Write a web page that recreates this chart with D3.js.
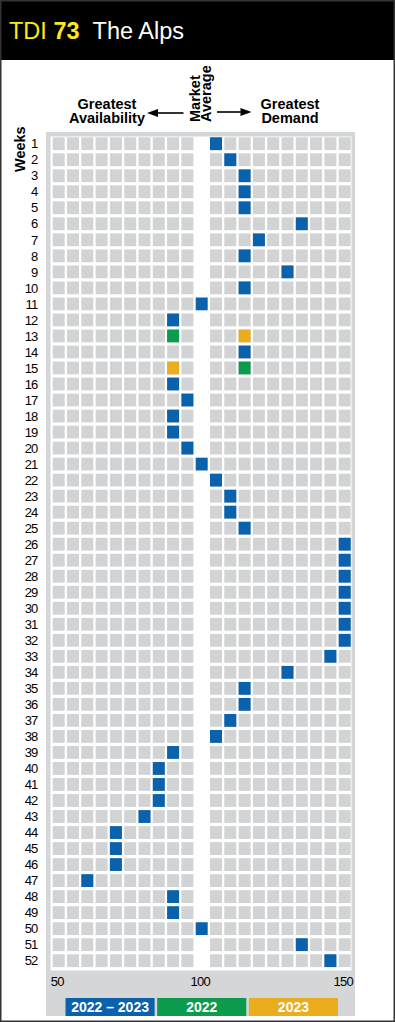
<!DOCTYPE html>
<html>
<head>
<meta charset="utf-8">
<script src="https://cdn.jsdelivr.net/npm/d3@7"></script>
<style>
  body { margin: 0; background: #fff; }
  svg { display: block; font-family: "Liberation Sans", Arial, sans-serif; }
</style>
</head>
<body>
<svg id="tdi" width="395" height="1022"></svg>
<script>
// week labels (rows) and TDI column ticks
const weeks = d3.range(1, 53);
const columns = d3.range(50, 151, 5);
const tickLabels = [50, 100, 150];

// 2022-2023 combined value per week (null where the two years differ)
const combined = [105, 110, 115, 115, 115, 135, 120, 115, 130, 115,
                  100, 90, null, 115, null, 90, 95, 90, 90, 95,
                  100, 105, 110, 110, 115, 150, 150, 150, 150, 150,
                  150, 150, 145, 130, 115, 115, 110, 105, 90, 85,
                  85, 85, 80, 70, 70, 70, 60, 90, 90, 100,
                  135, 145];
// weeks where 2022 and 2023 are shown apart
const splitWeeks = [13, 15];
const values2022 = [90, 115];
const values2023 = [115, 90];

const legendLabels = ["2022 \u2013 2023", "2022", "2023"];
const legendColors = ["#0a62ad", "#0a9b4c", "#e9ad1d"];

const svg = d3.select("#tdi");

// header band
svg.append("rect").attr("width", 395).attr("height", 60).attr("fill", "#000");
const title = svg.append("text").attr("x", 9).attr("y", 39).style("font-size", "23.5px");
title.append("tspan").attr("fill", "#fbe918").text("TDI ");
title.append("tspan").attr("fill", "#fbe918").style("font-weight", "bold").text("73");
title.append("tspan").attr("fill", "#fff").attr("dx", 13).text("The Alps");

// outer frame
svg.append("rect")
  .attr("x", 0.75).attr("y", 0.75).attr("width", 393.5).attr("height", 1020.5)
  .attr("fill", "none").attr("stroke", "#333").attr("stroke-width", 1.5);

// gray panel and white plot area
svg.append("rect").attr("x", 46).attr("y", 132).attr("width", 309).attr("height", 884).attr("fill", "#d5d6d8");
svg.append("rect").attr("x", 50.5).attr("y", 136.5).attr("width", 301).attr("height", 834).attr("fill", "#fff");

const x = d3.scaleLinear().domain([50, 150]).range([58.7, 344.7]);
const y = d3.scaleBand().domain(weeks).range([134.1, 970.3]).padding(0.2);
const cellW = 12;

// background cells, the 100 column stays empty
const cells = [];
weeks.forEach(w => columns.forEach(c => { if (c !== 100) cells.push({w, c}); }));
svg.append("g").selectAll("rect")
  .data(cells)
  .enter()
  .append("rect")
  .attr("x", d => x(d.c) - cellW / 2)
  .attr("y", d => y(d.w))
  .attr("width", cellW)
  .attr("height", y.bandwidth())
  .attr("fill", "#d2d3d5");

// marks
const marks = [];
combined.forEach((v, i) => { if (v !== null) marks.push({w: weeks[i], v, color: legendColors[0]}); });
splitWeeks.forEach((w, i) => {
  marks.push({w, v: values2022[i], color: legendColors[1]});
  marks.push({w, v: values2023[i], color: legendColors[2]});
});
svg.append("g").selectAll("rect")
  .data(marks)
  .enter()
  .append("rect")
  .attr("x", d => x(d.v) - cellW / 2)
  .attr("y", d => y(d.w))
  .attr("width", cellW)
  .attr("height", y.bandwidth())
  .attr("fill", d => d.color);

// week labels
svg.append("g").selectAll("text")
  .data(weeks)
  .enter()
  .append("text")
  .attr("x", 37.5)
  .attr("y", d => y(d) + y.bandwidth() / 2)
  .attr("dy", "0.36em")
  .attr("text-anchor", "end")
  .style("font-size", "13px")
  .style("letter-spacing", "-0.8px")
  .text(d => d);

svg.append("text")
  .attr("transform", "translate(25,172) rotate(-90)")
  .style("font-size", "14.5px").style("font-weight", "bold")
  .text("Weeks");

// x tick labels
svg.append("g").selectAll("text")
  .data(tickLabels)
  .enter()
  .append("text")
  .attr("x", d => x(d) - 1.5)
  .attr("y", 986)
  .attr("text-anchor", "middle")
  .style("font-size", "13px")
  .style("letter-spacing", "-0.8px")
  .text(d => d);

// top annotations
const head = svg.append("g").style("font-size", "14.5px").style("font-weight", "bold");
[["Greatest", 109], ["Availability", 123]].forEach(([t, yy]) =>
  head.append("text").attr("x", 107).attr("y", yy).attr("text-anchor", "middle").text(t));
[["Greatest", 109], ["Demand", 123]].forEach(([t, yy]) =>
  head.append("text").attr("x", 290).attr("y", yy).attr("text-anchor", "middle").text(t));
head.append("text").attr("transform", "translate(199.5,122) rotate(-90)").text("Market");
head.append("text").attr("transform", "translate(211,122) rotate(-90)").text("Average");

const arrow = (x1, x2, yy) => {
  const dir = Math.sign(x2 - x1);
  svg.append("line")
    .attr("x1", x1).attr("x2", x2 - dir * 8).attr("y1", yy).attr("y2", yy)
    .attr("stroke", "#000").attr("stroke-width", 1.6);
  svg.append("path")
    .attr("d", `M${x2},${yy} L${x2 - dir * 11},${yy - 4} L${x2 - dir * 11},${yy + 4} Z`)
    .attr("fill", "#000");
};
arrow(183.5, 147, 113);
arrow(217, 251.5, 112);

// legend
const lx = d3.scaleBand().domain(legendLabels).range([65.5, 338]).paddingInner(0.028);
const legend = svg.append("g").selectAll("g")
  .data(legendLabels)
  .enter()
  .append("g");
legend.append("rect")
  .attr("x", d => lx(d))
  .attr("y", 998)
  .attr("width", lx.bandwidth())
  .attr("height", 18)
  .attr("fill", (d, i) => legendColors[i]);
legend.append("text")
  .attr("x", d => lx(d) + lx.bandwidth() / 2)
  .attr("y", 1012)
  .attr("text-anchor", "middle")
  .attr("fill", "#fff")
  .style("font-size", "14px")
  .style("font-weight", "bold")
  .text(d => d);
</script>
</body>
</html>
